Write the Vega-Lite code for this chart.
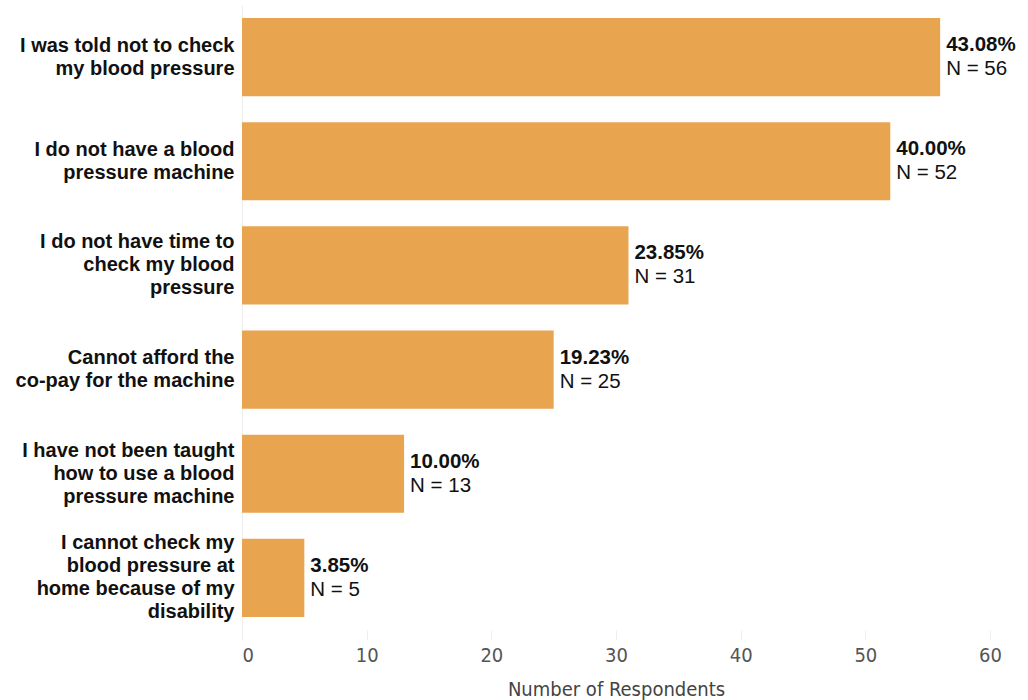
{
  "$schema": "https://vega.github.io/schema/vega-lite/v6.json",
  "width": 748,
  "height": 625,
  "autosize": {"type": "none"},
  "padding": {"left": 242, "top": 5, "right": 38, "bottom": 70},
  "background": "white",
  "config": {"view": {"stroke": null}, "font": "Arial, Liberation Sans, sans-serif"},
  "data": {"values": [
    {"reason": "I was told not to check|my blood pressure", "n": 56, "pct": "43.08%", "nlabel": "N = 56"},
    {"reason": "I do not have a blood|pressure machine", "n": 52, "pct": "40.00%", "nlabel": "N = 52"},
    {"reason": "I do not have time to|check my blood|pressure", "n": 31, "pct": "23.85%", "nlabel": "N = 31"},
    {"reason": "Cannot afford the|co-pay for the machine", "n": 25, "pct": "19.23%", "nlabel": "N = 25"},
    {"reason": "I have not been taught|how to use a blood|pressure machine", "n": 13, "pct": "10.00%", "nlabel": "N = 13"},
    {"reason": "I cannot check my|blood pressure at|home because of my|disability", "n": 5, "pct": "3.85%", "nlabel": "N = 5"}
  ]},
  "encoding": {
    "y": {"field": "reason", "type": "nominal", "sort": null,
      "scale": {"paddingInner": 0.25, "paddingOuter": 0.125},
      "axis": {"title": null, "labelExpr": "split(datum.label, '|')", "labelFont": "Arial, Liberation Sans, sans-serif", "labelFontWeight": "bold", "labelFontSize": 20, "labelColor": "#111", "labelLineHeight": 23, "labelPadding": 8, "ticks": false, "domain": true, "domainColor": "#eeeeee", "labelLimit": 300,
        "labelOffset": {"condition": [
          {"test": "length(split(datum.value, '|')) == 2", "value": -11.5},
          {"test": "length(split(datum.value, '|')) == 3", "value": -23},
          {"test": "length(split(datum.value, '|')) == 4", "value": -34.5}
        ], "value": 0}}},
    "x": {"field": "n", "type": "quantitative",
      "scale": {"domain": [0, 60]},
      "axis": {"title": "Number of Respondents", "values": [0, 10, 20, 30, 40, 50, 60], "grid": false, "domain": false, "tickColor": "#eeeeee", "tickSize": 10, "labelFlush": false,
        "labelAlign": {"condition": {"test": "datum.value == 0", "value": "left"}, "value": "center"},
        "labelFont": "DejaVu Sans Condensed, Roboto, Liberation Sans", "labelFontSize": 20, "labelColor": "#555", "labelPadding": 5, "titleFont": "DejaVu Sans Condensed, Roboto, Liberation Sans", "titleFontSize": 20, "titleFontWeight": "normal", "titleColor": "#444", "titlePadding": 14}}
  },
  "layer": [
    {"mark": {"type": "bar", "color": "#E8A44F"}},
    {"mark": {"type": "text", "align": "left", "baseline": "middle", "dx": 6, "dy": -12, "fontSize": 20.5, "fontWeight": "bold", "color": "#111", "font": "Arial, Liberation Sans, sans-serif"}, "encoding": {"text": {"field": "pct"}}},
    {"mark": {"type": "text", "align": "left", "baseline": "middle", "dx": 6, "dy": 12, "fontSize": 20.5, "color": "#111", "font": "Arial, Liberation Sans, sans-serif"}, "encoding": {"text": {"field": "nlabel"}}}
  ]
}
